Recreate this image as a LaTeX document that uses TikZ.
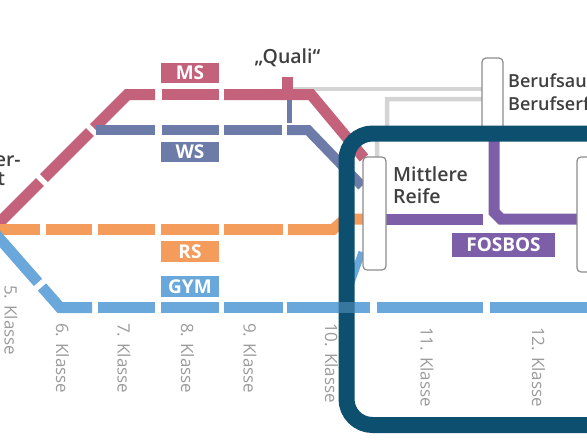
\documentclass[tikz,border=0pt]{standalone}
\usepackage{fontspec}
\setmainfont{Open Sans}
\newfontfamily\sbfont{Open Sans Semibold}
\definecolor{msc}{HTML}{C4617B}
\definecolor{wsc}{HTML}{6C7BA8}
\definecolor{rsc}{HTML}{F39C5B}
\definecolor{gyc}{HTML}{6AA7DA}
\definecolor{fbc}{HTML}{7C5FA8}
\definecolor{frc}{HTML}{0C4F6F}
\definecolor{grl}{HTML}{D4D4D4}
\definecolor{boxc}{HTML}{8C8C8C}
\definecolor{txc}{HTML}{3F3F3F}
\definecolor{klc}{HTML}{9B9B9B}
\begin{document}
\begin{tikzpicture}[x=1pt,y=-1pt,
  metro/.style={line width=11pt, line cap=butt, line join=miter},
  msline/.style={metro, draw=msc},
  wsline/.style={metro, draw=wsc, line width=10pt},
  rsline/.style={metro, draw=rsc},
  gyline/.style={metro, draw=gyc},
  fbline/.style={metro, draw=fbc},
  grayline/.style={draw=grl, line width=4.5pt},
  stationbox/.style={draw=boxc, line width=1.2pt, fill=white, rounded corners=4pt, inner sep=0pt},
  tag/.style={text=white, font=\bfseries\fontsize{19}{19}\selectfont, inner sep=0pt, minimum height=20pt},
  station/.style={text=txc, font=\sbfont\fontsize{19.5}{19.5}\selectfont, inner sep=0pt},
  klasse/.style={text=klc, font=\fontsize{17}{17}\selectfont, rotate=-90, anchor=west, inner sep=0pt},
  frameline/.style={draw=frc, line width=16pt, rounded corners=26pt}
]
\useasboundingbox (0,0) rectangle (587,440);
\clip (0,0) rectangle (587,440);

\coordinate (quali) at (287.5,94.5);

% gray connections
\draw[grayline] (293,89) -- (482,89);
\draw[grayline] (482,99) -- (387,99) -- (387,128) -- (377,140) -- (377,158);

% MS line
\draw[msline] (-10,232) -- (40,182);
\draw[msline] (44,178) -- (90,132);
\draw[msline] (94,128) -- (127.5,94.5) -- (155,94.5);
\draw[msline] (162,94.5) -- (219,94.5);
\draw[msline] (224,94.5) -- (311,94.5) -- (364,158);
\fill[msc] (282,77) rectangle (293,95);

% WS line
\draw[wsline] (96,130) -- (155,130);
\draw[wsline] (162,130) -- (219,130);
\draw[wsline] (224,130) -- (282,130);
\draw[wsline, line width=5pt] (289.5,100) -- (289.5,123);
\draw[wsline] (287,130) -- (308,130) -- (362,186);

% RS line
\draw[rsline] (-5,229.5) -- (40,229.5);
\draw[rsline] (46,229.5) -- (92,229.5);
\draw[rsline] (98,229.5) -- (155,229.5);
\draw[rsline] (161,229.5) -- (219,229.5);
\draw[rsline] (224,229.5) -- (283,229.5);
\draw[rsline] (288,229.5) -- (333,229.5) -- (345,219) -- (364,219);

% GYM line
\draw[gyline] (-8,230) -- (38,282.4);
\draw[gyline] (42,287) -- (60,307.5) -- (92,307.5);
\draw[gyline] (98,307.5) -- (155,307.5);
\draw[gyline] (161,307.5) -- (219,307.5);
\draw[gyline] (224,307.5) -- (283,307.5);
\draw[gyline] (287,307.5) -- (370,307.5);
\draw[gyline] (377,307.5) -- (483,307.5);
\draw[gyline] (490,307.5) -- (600,307.5);
\draw[gyline, line width=7pt] (342,307.5) -- (362,252);

% FOSBOS line
\draw[fbline] (386,219) -- (483,219);
\draw[fbline] (494,125) -- (494,212) -- (501,219) -- (578,219);

% station boxes
\node[stationbox, minimum width=23pt, minimum height=113pt] (mr) at (374.5,213.5) {};
\node[stationbox, minimum width=21pt, minimum height=76pt] (bb) at (492.5,96) {};
\node[stationbox, minimum width=23pt, minimum height=115pt] (ab) at (588.5,214.5) {};

% frame
\draw[frameline] (640,133.5) -- (346.5,133.5) -- (346.5,425) -- (640,425);
\draw[gyline, opacity=0.45] (337,307.5) -- (356,307.5);

% line tags
\node[tag, fill=msc, minimum width=58pt] (tms) at (190,73) {MS};
\node[tag, fill=wsc, minimum width=58pt] (tws) at (190,152) {WS};
\node[tag, fill=rsc, minimum width=58pt, minimum height=21pt] (trs) at (190,251.5) {RS};
\node[tag, fill=gyc, minimum width=58pt, minimum height=21pt] (tgy) at (190,286.5) {GYM};
\node[tag, fill=fbc, minimum width=103pt, minimum height=24pt] (tfb) at (503.5,245) {FOSBOS};

% station texts
\node[station, anchor=base] (tq) at (287.5,63) {„Quali“};
\node[station, anchor=base west] (mr1) at (393,181.5) {Mittlere};
\node[station, anchor=base west] (mr2) at (393,203) {Reife};
\node[station, anchor=base west, font=\sbfont\fontsize{18}{18}\selectfont] (bb1) at (508,87) {Berufsausbildung};
\node[station, anchor=base west, font=\sbfont\fontsize{18}{18}\selectfont] (bb2) at (508,110) {Berufserfahrung};
\node[station, anchor=base west] (ue1) at (-32,166) {Über-};
\node[station, anchor=base west] (ue2) at (-32,185) {tritt};

% grades
\node[klasse] (k5) at (11,285) {5. Klasse};
\node[klasse] (k6) at (62.5,323) {6. Klasse};
\node[klasse] (k7) at (124,323) {7. Klasse};
\node[klasse] (k8) at (187.5,323) {8. Klasse};
\node[klasse] (k9) at (250,323) {9. Klasse};
\node[klasse] (k10) at (331.5,323) {10. Klasse};
\node[klasse] (k11) at (427,327) {11. Klasse};
\node[klasse] (k12) at (538.5,327) {12. Klasse};
\end{tikzpicture}
\end{document}
